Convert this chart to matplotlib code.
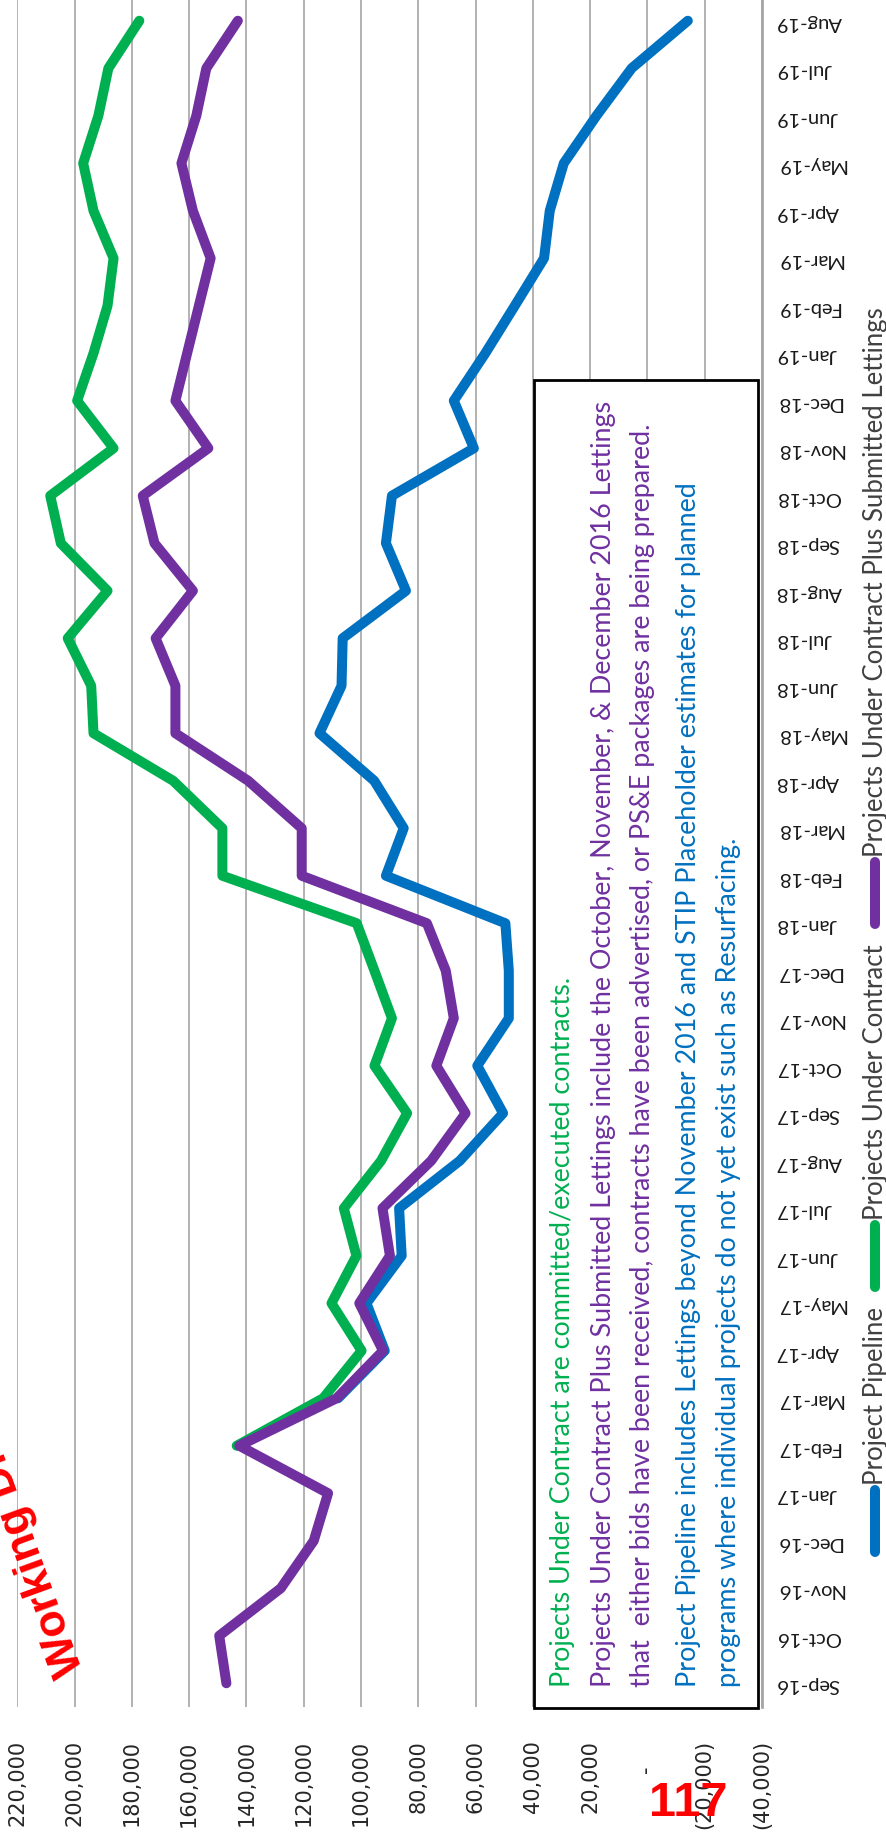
import numpy as np
import matplotlib
matplotlib.use("Agg")
import matplotlib.pyplot as plt
from matplotlib.lines import Line2D
from matplotlib.patches import Rectangle

# months along the (rotated) category axis, bottom to top
months = ['Sep-16', 'Oct-16', 'Nov-16', 'Dec-16', 'Jan-17', 'Feb-17', 'Mar-17', 'Apr-17',
          'May-17', 'Jun-17', 'Jul-17', 'Aug-17', 'Sep-17', 'Oct-17', 'Nov-17', 'Dec-17',
          'Jan-18', 'Feb-18', 'Mar-18', 'Apr-18', 'May-18', 'Jun-18', 'Jul-18', 'Aug-18',
          'Sep-18', 'Oct-18', 'Nov-18', 'Dec-18', 'Jan-19', 'Feb-19', 'Mar-19', 'Apr-19',
          'May-19', 'Jun-19', 'Jul-19', 'Aug-19']

nan = np.nan
pipeline = [nan, nan, nan, nan, nan, nan, 108000, 91700, 98100, 85800, 86700, 65500,
            50400, 59400, 48400, 48400, 49600, 91300, 85100, 95400, 114500, 106800, 106400, 84300,
            91300, 89200, 60600, 67600, 56600, 46300, 36100, 34100, 29200, 17800, 5500, -14100]
under_contract = [nan, nan, nan, nan, nan, 143400, 113200, 99800, 110300, 101600, 106000, 93000,
                  83900, 95300, 89200, 95300, 101500, 148400, 148400, 165600, 193400, 194200, 202400, 188500,
                  204800, 208500, 186400, 199100, 193400, 188500, 186400, 193400, 197000, 191700, 188200, 177400]
plus_submitted = [147000, 149500, 128000, 116500, 111500, 142500, 108500, 92300, 100600, 89900, 92500, 75500,
                  63500, 73700, 67600, 70400, 77000, 120700, 120700, 139400, 164800, 164800, 171700, 158700,
                  172100, 176200, 153300, 164800, 160700, 156600, 152500, 158700, 162700, 157500, 154000, 143000]

series_names = ['Project Pipeline', 'Projects Under Contract',
                'Projects Under Contract Plus Submitted Lettings']
series_colors = ['#0070C0', '#00B050', '#7030A0']

value_ticks = list(range(-40000, 220001, 20000))

notes = [
    ('Projects Under Contract are committed/executed contracts.', '#00B050'),
    ('Projects Under Contract Plus Submitted Lettings include the October, November, & December 2016 Lettings', '#7030A0'),
    ('that  either bids have been received, contracts have been advertised, or PS&E packages are being prepared.', '#7030A0'),
    ('Project Pipeline includes Lettings beyond November 2016 and STIP Placeholder estimates for planned', '#0070C0'),
    ('programs where individual projects do not yet exist such as Resurfacing.', '#0070C0'),
]


def fmt(v):
    if v > 0:
        return f'{v:,}'
    if v == 0:
        return '-    '
    return f'({-v:,})'


W, H = 887, 1835
fig = plt.figure(figsize=(W / 100, H / 100), dpi=100)


def fx(x):
    return x / W


def fy(y):
    return 1 - y / H


# plot area in pixel terms: left 17, right 762, bottom 1707, top -3
ax = fig.add_axes([fx(17.3), fy(1707), fx(762) - fx(17.3), fy(-3) - fy(1707)])
pos = np.arange(len(months))

for vals, col in zip([pipeline, under_contract, plus_submitted], series_colors):
    ax.plot(vals, pos, color=col, lw=7.2, solid_capstyle='round', solid_joinstyle='round')

ax.set_xlim(220000, -40000)
ax.set_ylim(-0.5, len(months) - 0.5)
ax.set_xticks(value_ticks)
ax.set_xticklabels([fmt(v) for v in value_ticks], rotation=90, fontsize=15,
                   family='DejaVu Sans', color='#262626')
ax.xaxis.grid(True, color='#A6A6A6', lw=1.2)
ax.set_axisbelow(True)
ax.tick_params(axis='x', length=0, pad=24)

ax.yaxis.tick_right()
ax.set_yticks(pos)
ax.set_yticklabels(months, rotation=180, fontsize=14.5, family='Lato', color='#1a1a1a')
ax.tick_params(axis='y', length=0, pad=10)

for s in ['top', 'left', 'bottom']:
    ax.spines[s].set_visible(False)
ax.spines['right'].set_color('#A6A6A6')
ax.spines['right'].set_linewidth(2)

# notes box
fig.patches.append(Rectangle((fx(534), fy(1708)), fx(758) - fx(534), fy(380) - fy(1708),
                             transform=fig.transFigure, facecolor='white',
                             edgecolor='black', lw=2, zorder=3))
note_x = [563, 604, 643, 689, 729]
for (txt, col), xx in zip(notes, note_x):
    fig.text(fx(xx), fy(1687), txt, rotation=90, ha='center', va='bottom',
             fontsize=19.4, family='Lato', color=col, zorder=4)

# legend along the right edge, stacked bottom to top
renderer = fig.canvas.get_renderer()
y0 = 1552
for name, col in zip(series_names, series_colors):
    fig.add_artist(Line2D([fx(875), fx(875)], [fy(y0), fy(y0 - 62)], color=col, lw=7.2,
                          solid_capstyle='round', transform=fig.transFigure))
    t = fig.text(fx(876), fy(y0 - 67), name, rotation=90, ha='center', va='bottom',
                 fontsize=18.5, family='Lato', color='#404040')
    y0 = y0 - 67 - t.get_window_extent(renderer).height - 20

# red stamps
fig.text(fx(84), fy(1670), 'Working Draft', rotation=110, rotation_mode='anchor',
         ha='left', va='baseline', fontsize=32, fontweight='bold',
         family='Liberation Sans', color='#FF0000')
fig.text(fx(688), fy(1803), '117', ha='center', va='center', fontsize=35,
         fontweight='bold', family='Liberation Sans', color='#FF0000', zorder=10)

fig.savefig('out.png', dpi=100)
